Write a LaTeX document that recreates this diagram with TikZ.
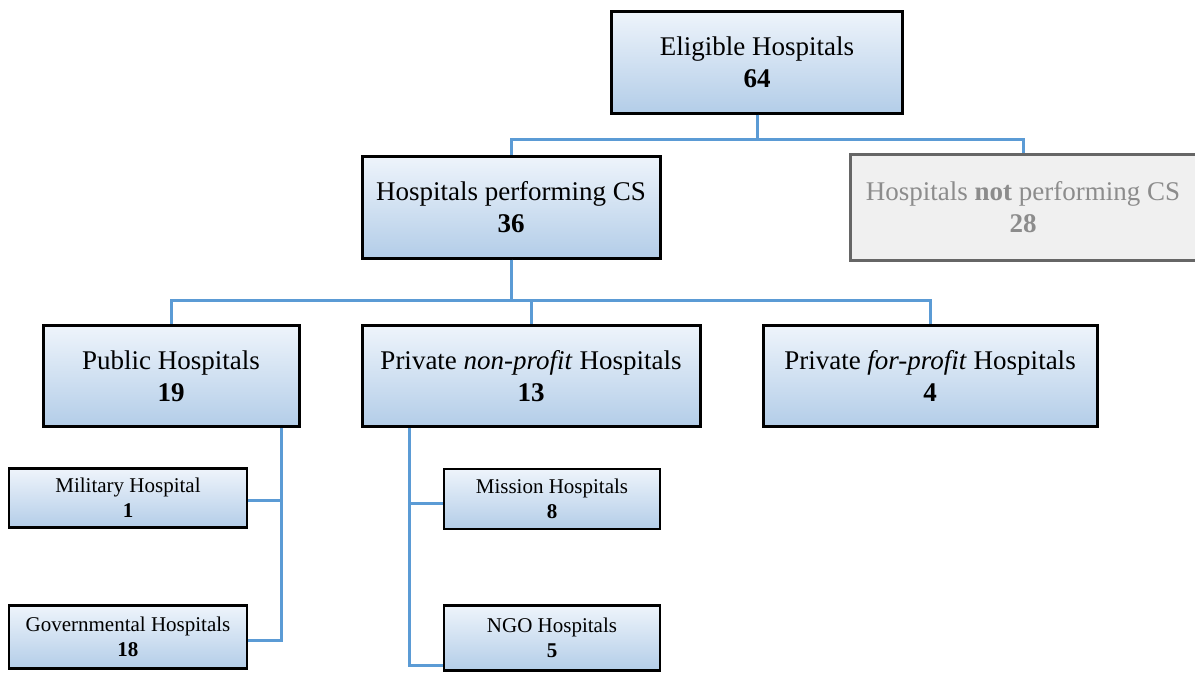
\documentclass[tikz,border=0pt]{standalone}
\usepackage{fontspec}
\setmainfont{Liberation Serif}
\usepackage{xcolor}
\usetikzlibrary{calc,positioning}

\definecolor{linkblue}{HTML}{5B9BD5}
\definecolor{boxtop}{HTML}{EEF4FB}
\definecolor{boxbot}{HTML}{B3CDE8}

\begin{document}
\begin{tikzpicture}[x=1pt,y=-1pt,
  hbox/.style={draw=black,line width=3pt,top color=boxtop,bottom color=boxbot,
    align=center,inner sep=0pt,font=\fontsize{27}{32}\selectfont},
  sbox/.style={draw=black,line width=2.6pt,top color=boxtop,bottom color=boxbot,
    align=center,inner sep=0pt,font=\fontsize{21}{25}\selectfont},
  gbox/.style={draw=black!60,line width=3pt,fill=black!6,text=black!45,
    align=center,inner sep=0pt,font=\fontsize{27}{32}\selectfont},
  link/.style={linkblue,line width=3pt}]
\useasboundingbox (0,0) rectangle (1195,673);
% top level
\node[hbox,minimum width=291pt,minimum height=102pt] (elig) at (757,62)
  {Eligible Hospitals\\\textbf{64}};
\node[hbox,minimum width=298pt,minimum height=102pt] (cs) at (511,207)
  {Hospitals performing CS\\\textbf{36}};
\node[gbox,minimum width=346pt,minimum height=106pt] (notcs) at (1023,207)
  {Hospitals \textbf{not} performing CS\\\textbf{28}};
% second level
\node[hbox,minimum width=256pt,minimum height=101pt] (pub) at (171,376)
  {Public Hospitals\\\textbf{19}};
\node[hbox,minimum width=338pt,minimum height=101pt] (npr) at (531,376)
  {Private \textit{non-profit} Hospitals\\\textbf{13}};
\node[hbox,minimum width=334pt,minimum height=101pt] (fpr) at (930,376)
  {Private \textit{for-profit} Hospitals\\\textbf{4}};
% third level
\node[sbox,minimum width=238pt,minimum height=59pt] (mil) at (128,498)
  {Military Hospital\\\textbf{1}};
\node[sbox,minimum width=238pt,minimum height=63pt] (gov) at (128,637)
  {Governmental Hospitals\\\textbf{18}};
\node[sbox,minimum width=216pt,minimum height=60pt] (mis) at (552,499)
  {Mission Hospitals\\\textbf{8}};
\node[sbox,minimum width=216pt,minimum height=65pt] (ngo) at (552,638)
  {NGO Hospitals\\\textbf{5}};
% connectors
\draw[link] (elig.south) -- ++(0,25) -| (cs.north);
\draw[link] (elig.south) -- ++(0,25) -| (notcs.north);
\draw[link] (cs.south) -- ++(0,41) -| (pub.north);
\draw[link] (cs.south) -- ++(0,41) -| (npr.north);
\draw[link] (cs.south) -- ++(0,41) -| (fpr.north);
\coordinate (pubv) at ($(pub.south east)+(-19,0)$);
\coordinate (nprv) at ($(npr.south west)+(49,0)$);
\draw[link] (pubv) |- ([yshift=-2pt]mil.east);
\draw[link] (pubv) |- ([yshift=-3pt]gov.east);
\draw[link] (nprv) |- ([yshift=-4pt]mis.west);
\draw[link] (nprv) |- ([yshift=-27pt]ngo.west);
\end{tikzpicture}
\end{document}
